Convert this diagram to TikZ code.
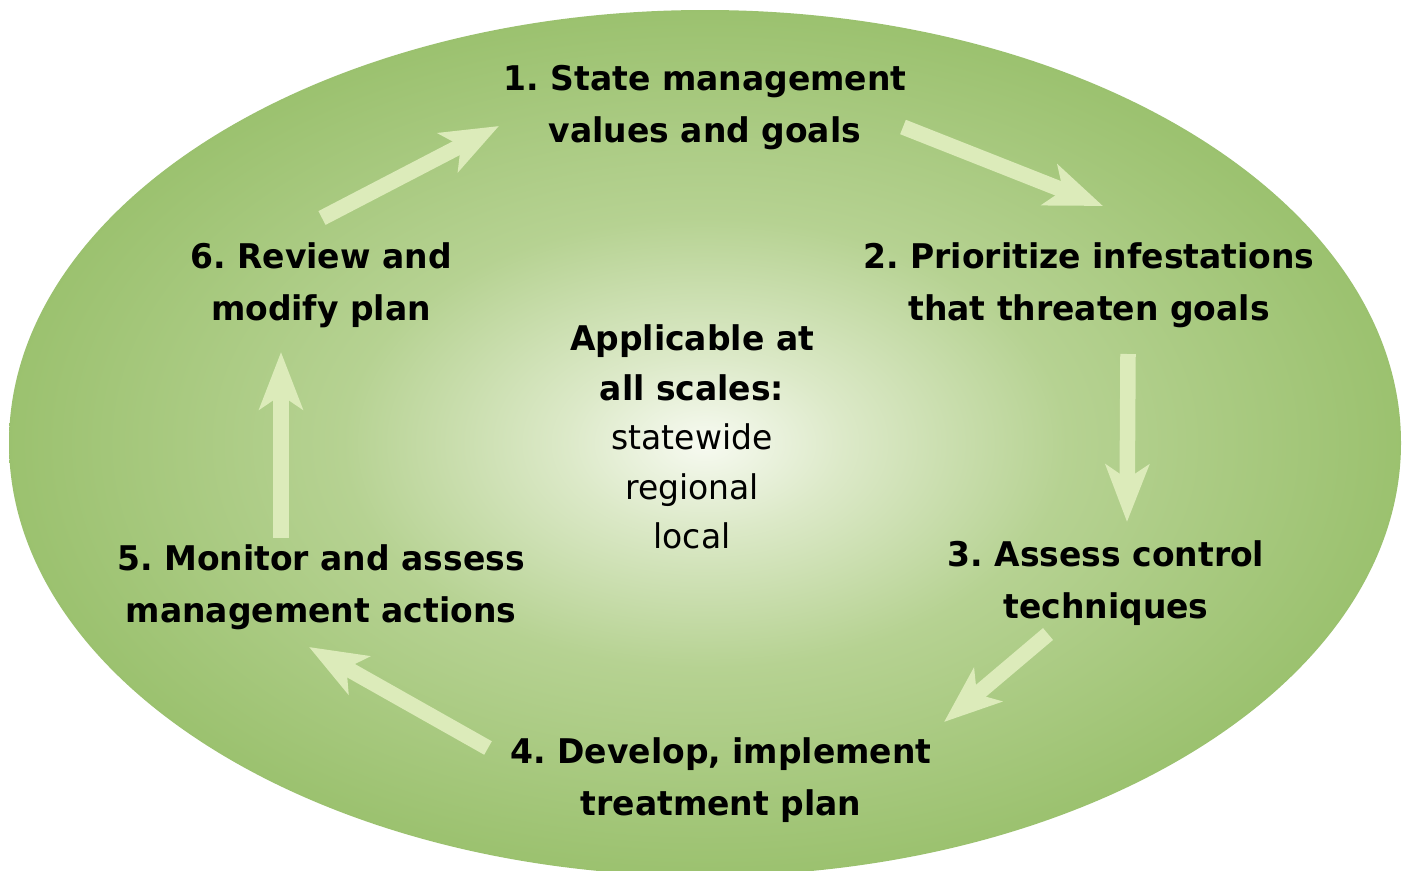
\documentclass[tikz,border=0pt]{standalone}
\usepackage{fontspec}
\setmainfont[FakeStretch=0.97]{DejaVu Sans}
\usetikzlibrary{arrows.meta}
\definecolor{cycleCore}{RGB}{247,250,241}
\definecolor{cyclePale}{RGB}{220,233,200}
\definecolor{cycleSoft}{RGB}{182,210,146}
\definecolor{cycleMid}{RGB}{153,192,108}
\definecolor{cycleEdge}{RGB}{137,179,86}
\definecolor{cycleArrow}{RGB}{220,235,186}
\pgfdeclareradialshading{cycleglow}{\pgfpoint{0bp}{0bp}}{%
  color(0bp)=(cycleCore); color(5bp)=(cyclePale); color(13bp)=(cycleSoft);
  color(26bp)=(cycleMid); color(44bp)=(cycleEdge); color(72bp)=(cycleEdge)}
\tikzset{
  stepbox/.style={align=center, inner sep=0pt, font=\bfseries\fontsize{34}{52}\selectfont},
  scalebox/.style={align=center, inner sep=0pt, font=\fontsize{34}{49.5}\selectfont},
  flow/.style={draw=cycleArrow, line width=15.5pt,
    -{Stealth[length=57pt, width=43pt, inset=14pt]}}
}

\begin{document}
\frenchspacing
\begin{tikzpicture}[x=1pt,y=-1pt]
  \useasboundingbox (0,0) rectangle (1410,870);
  \clip (0,0) rectangle (1410,870);
  \shade[shading=cycleglow] (705,443) ellipse [x radius=696, y radius=433];

  % the six steps round the cycle
  \node[stepbox] (s1) at (705,108) {1. State management\\values and goals};
  \node[stepbox] (s2) at (1089,285) {2. Prioritize infestations\\that threaten goals};
  \node[stepbox] (s3) at (1106,583) {3. Assess control\\techniques};
  \node[stepbox] (s4) at (721,780) {4. Develop, implement\\treatment plan};
  \node[stepbox] (s5) at (321,587) {5. Monitor and assess\\management actions};
  \node[stepbox] (s6) at (321,285) {6. Review and\\modify plan};

  \node[scalebox] (scales) at (692,437)
    {\textbf{Applicable at}\\\textbf{all scales:}\\statewide\\regional\\local};

  % arrow ends
  \coordinate (a6) at (322,218);  \coordinate (b1) at (499,126);
  \coordinate (a1) at (903,127);  \coordinate (b2) at (1103,206);
  \coordinate (a2) at (1128,354); \coordinate (b3) at (1127,522);
  \coordinate (a3) at (1048,634); \coordinate (b4) at (944,722);
  \coordinate (a4) at (488,748);  \coordinate (b5) at (309,647);
  \coordinate (a5) at (281,538);  \coordinate (b6) at (281,352);

  \draw[flow] (a6) -- (b1);
  \draw[flow] (a1) -- (b2);
  \draw[flow] (a2) -- (b3);
  \draw[flow] (a3) -- (b4);
  \draw[flow] (a4) -- (b5);
  \draw[flow] (a5) -- (b6);
\end{tikzpicture}
\end{document}
